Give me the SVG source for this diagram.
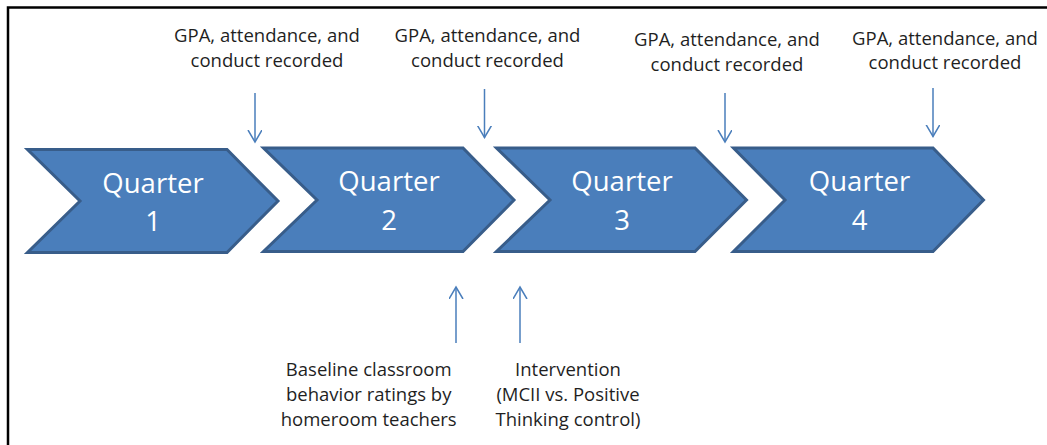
<svg xmlns="http://www.w3.org/2000/svg" width="1047" height="445" viewBox="0 0 1047 445">
  <style>
    .chev { fill: #4A7EBB; stroke: #385D8A; stroke-width: 3; stroke-linejoin: miter; }
    .qt { font-family: "Open Sans", "Liberation Sans", sans-serif; font-size: 27.5px; fill: #FFFFFF; text-anchor: middle; }
    .lbl { font-family: "Open Sans", "Liberation Sans", sans-serif; font-size: 18.5px; fill: #1F1F1F; text-anchor: middle; }
    .arr { stroke: #4A7EBB; stroke-width: 1.5; fill: none; marker-end: url(#head); }
    .frame { stroke: #000000; stroke-width: 2.5; fill: none; }
  </style>
  <defs>
    <marker id="head" markerUnits="userSpaceOnUse" markerWidth="16" markerHeight="16" refX="12" refY="7" orient="auto">
      <path d="M0,0 L12,7 L0,14" fill="none" stroke="#4A7EBB" stroke-width="1.5"/>
    </marker>
  </defs>
  <rect width="1047" height="445" fill="#FFFFFF"/>
  <path class="frame" d="M8,445 L8,7.5 L1047,7.5"/>

  <g id="q1">
    <polygon class="chev" points="27.5,149.5 227,149.5 278,201 227,252.5 27.5,252.5 80,201"/>
    <text class="qt" x="153" y="193">Quarter</text>
    <text class="qt" x="153" y="230.5">1</text>
  </g>
  <g id="q2">
    <polygon class="chev" points="263.5,148 463,148 514,200 463,251.5 263.5,251.5 317,200"/>
    <text class="qt" x="389" y="191">Quarter</text>
    <text class="qt" x="389" y="229.5">2</text>
  </g>
  <g id="q3">
    <polygon class="chev" points="496.5,148 695,148 746.5,200 695,251.5 496.5,251.5 550,200"/>
    <text class="qt" x="622" y="191">Quarter</text>
    <text class="qt" x="622" y="229.5">3</text>
  </g>
  <g id="q4">
    <polygon class="chev" points="733.5,148 933,148 983.5,200 933,251.5 733.5,251.5 785,200"/>
    <text class="qt" x="859.5" y="191">Quarter</text>
    <text class="qt" x="859.5" y="229.5">4</text>
  </g>

  <g id="label-gpa-1">
    <text class="lbl" x="267" y="41.7">GPA, attendance, and</text>
    <text class="lbl" x="267" y="66.7">conduct recorded</text>
  </g>
  <g id="label-gpa-2">
    <text class="lbl" x="487.5" y="41.7">GPA, attendance, and</text>
    <text class="lbl" x="487.5" y="66.7">conduct recorded</text>
  </g>
  <g id="label-gpa-3">
    <text class="lbl" x="727" y="46">GPA, attendance, and</text>
    <text class="lbl" x="727" y="70.5">conduct recorded</text>
  </g>
  <g id="label-gpa-4">
    <text class="lbl" x="945" y="44.5">GPA, attendance, and</text>
    <text class="lbl" x="945" y="69.3">conduct recorded</text>
  </g>
  <g id="label-baseline">
    <text class="lbl" x="368.7" y="376">Baseline classroom</text>
    <text class="lbl" x="368.7" y="400.7">behavior ratings by</text>
    <text class="lbl" x="368.7" y="426">homeroom teachers</text>
  </g>
  <g id="label-intervention">
    <text class="lbl" x="568" y="375.5">Intervention</text>
    <text class="lbl" x="568" y="400.5">(MCII vs. Positive</text>
    <text class="lbl" x="568" y="426">Thinking control)</text>
  </g>

  <g id="connectors">
    <line class="arr" x1="255" y1="93" x2="255" y2="142"/>
    <line class="arr" x1="484.5" y1="89" x2="484.5" y2="137.5"/>
    <line class="arr" x1="725" y1="93" x2="725" y2="142"/>
    <line class="arr" x1="933" y1="88" x2="933" y2="136.5"/>
    <line class="arr" x1="456" y1="343" x2="456" y2="287"/>
    <line class="arr" x1="520" y1="343" x2="520" y2="287"/>
  </g>
</svg>
